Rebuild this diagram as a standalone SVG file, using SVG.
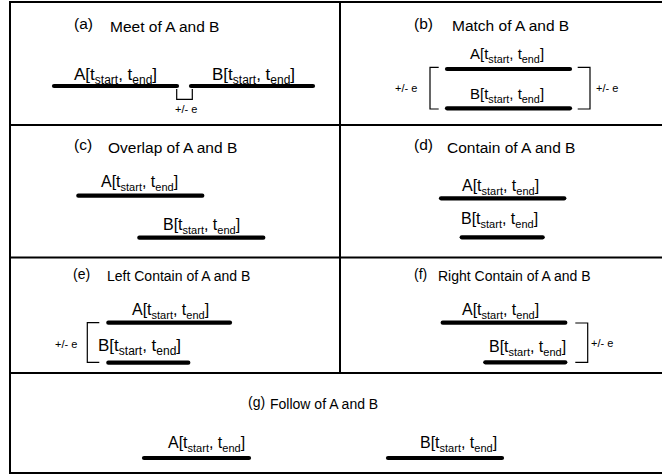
<svg xmlns="http://www.w3.org/2000/svg" width="662" height="474" viewBox="0 0 662 474">
<style>
text{font-family:"Liberation Sans",Arial,sans-serif;fill:#000}
.ttl{font-size:15.5px}
.ttl2{font-size:14px}
.lbl{font-size:16px}.lbl .s{font-size:11px}
.lbs{font-size:15px}.lbs .s{font-size:10.8px}
.lbb{font-size:17px}.lbb .s{font-size:12px}
.e{font-size:11px}
.bar{stroke:#000;stroke-width:4.2;stroke-linecap:round;fill:none}
.brk{stroke:#000;stroke-width:1.2;fill:none}
.grid{stroke:#000;stroke-width:2;fill:none}
</style>
<g id="grid">
<rect class="grid" x="10" y="2" width="660" height="471"/>
<line class="grid" x1="10" y1="125" x2="662" y2="125"/>
<line class="grid" x1="10" y1="257.5" x2="662" y2="257.5"/>
<line class="grid" x1="10" y1="373" x2="662" y2="373"/>
<line class="grid" x1="340" y1="2" x2="340" y2="373"/>
</g>
<g id="panel-a">
<text class="ttl" x="74" y="29">(a)</text>
<text class="ttl" x="110" y="31.5">Meet of A and B</text>
<text class="lbb" x="74" y="80">A[t<tspan class="s" dy="4">start</tspan><tspan dy="-4">, t</tspan><tspan class="s" dy="4">end</tspan><tspan dy="-4">]</tspan></text>
<text class="lbb" x="212" y="80">B[t<tspan class="s" dy="4">start</tspan><tspan dy="-4">, t</tspan><tspan class="s" dy="4">end</tspan><tspan dy="-4">]</tspan></text>
<text class="e" x="175" y="112.5">+/- e</text>
</g>
<g id="panel-b">
<text class="ttl" x="414" y="28.5">(b)</text>
<text class="ttl" x="452" y="31">Match of A and B</text>
<text class="lbs" x="470" y="59">A[t<tspan class="s" dy="4">start</tspan><tspan dy="-4">, t</tspan><tspan class="s" dy="4">end</tspan><tspan dy="-4">]</tspan></text>
<text class="lbs" x="470" y="98.5">B[t<tspan class="s" dy="4">start</tspan><tspan dy="-4">, t</tspan><tspan class="s" dy="4">end</tspan><tspan dy="-4">]</tspan></text>
<text class="e" x="395" y="92">+/- e</text>
<text class="e" x="596" y="92">+/- e</text>
</g>
<g id="panel-c">
<text class="ttl" x="74" y="150">(c)</text>
<text class="ttl" x="108" y="152.5">Overlap of A and B</text>
<text class="lbl" x="101" y="186.5">A[t<tspan class="s" dy="4">start</tspan><tspan dy="-4">, t</tspan><tspan class="s" dy="4">end</tspan><tspan dy="-4">]</tspan></text>
<text class="lbl" x="163" y="230">B[t<tspan class="s" dy="4">start</tspan><tspan dy="-4">, t</tspan><tspan class="s" dy="4">end</tspan><tspan dy="-4">]</tspan></text>
</g>
<g id="panel-d">
<text class="ttl" x="414" y="150">(d)</text>
<text class="ttl" x="447" y="152.5">Contain of A and B</text>
<text class="lbl" x="462" y="190.5">A[t<tspan class="s" dy="4">start</tspan><tspan dy="-4">, t</tspan><tspan class="s" dy="4">end</tspan><tspan dy="-4">]</tspan></text>
<text class="lbl" x="461" y="223.5">B[t<tspan class="s" dy="4">start</tspan><tspan dy="-4">, t</tspan><tspan class="s" dy="4">end</tspan><tspan dy="-4">]</tspan></text>
</g>
<g id="panel-e">
<text class="ttl2" x="73" y="278.5">(e)</text>
<text class="ttl2" x="107" y="281">Left Contain of A and B</text>
<text class="lbl" x="132" y="315">A[t<tspan class="s" dy="4">start</tspan><tspan dy="-4">, t</tspan><tspan class="s" dy="4">end</tspan><tspan dy="-4">]</tspan></text>
<text class="lbb" x="98" y="350.5">B[t<tspan class="s" dy="4">start</tspan><tspan dy="-4">, t</tspan><tspan class="s" dy="4">end</tspan><tspan dy="-4">]</tspan></text>
<text class="e" x="55" y="347.5">+/- e</text>
</g>
<g id="panel-f">
<text class="ttl2" x="414" y="278.5">(f)</text>
<text class="ttl2" x="438" y="281">Right Contain of A and B</text>
<text class="lbl" x="462" y="315">A[t<tspan class="s" dy="4">start</tspan><tspan dy="-4">, t</tspan><tspan class="s" dy="4">end</tspan><tspan dy="-4">]</tspan></text>
<text class="lbl" x="489" y="351.5">B[t<tspan class="s" dy="4">start</tspan><tspan dy="-4">, t</tspan><tspan class="s" dy="4">end</tspan><tspan dy="-4">]</tspan></text>
<text class="e" x="591" y="347">+/- e</text>
</g>
<g id="panel-g">
<text class="ttl2" x="248" y="406.5">(g)</text>
<text class="ttl2" x="270" y="409">Follow of A and B</text>
<text class="lbl" x="168" y="448">A[t<tspan class="s" dy="4">start</tspan><tspan dy="-4">, t</tspan><tspan class="s" dy="4">end</tspan><tspan dy="-4">]</tspan></text>
<text class="lbl" x="420" y="448">B[t<tspan class="s" dy="4">start</tspan><tspan dy="-4">, t</tspan><tspan class="s" dy="4">end</tspan><tspan dy="-4">]</tspan></text>
</g>
<g id="connectors">
<line class="bar" x1="54" y1="86" x2="177" y2="86"/>
<line class="bar" x1="191" y1="86" x2="313" y2="86"/>
<path class="brk" d="M176.7,89 V99.3 H192.3 V89"/>
<line class="bar" x1="447" y1="69" x2="570" y2="69"/>
<line class="bar" x1="447" y1="108.3" x2="570" y2="108.3"/>
<path class="brk" d="M438.7,67.3 H430 V109 H438.7"/>
<path class="brk" d="M577.7,67.3 H590 V109 H577.7"/>
<line class="bar" x1="78.3" y1="195.7" x2="202.3" y2="195.7"/>
<line class="bar" x1="139.3" y1="237.7" x2="263.3" y2="237.7"/>
<line class="bar" x1="441" y1="198.3" x2="564.3" y2="198.3"/>
<line class="bar" x1="461.7" y1="237.3" x2="542.7" y2="237.3"/>
<line class="bar" x1="108.3" y1="322.7" x2="230" y2="322.7"/>
<line class="bar" x1="108.3" y1="362.7" x2="188.3" y2="362.7"/>
<path class="brk" d="M99.3,322.7 H87.3 V362.3 H99.3"/>
<line class="bar" x1="442.7" y1="322.7" x2="565.3" y2="322.7"/>
<line class="bar" x1="485.3" y1="362.3" x2="565.3" y2="362.3"/>
<path class="brk" d="M575.3,323 H587.7 V362.3 H575.3"/>
<line class="bar" x1="144" y1="458" x2="249" y2="458"/>
<line class="bar" x1="388" y1="458" x2="502" y2="458"/>
</g>
</svg>
